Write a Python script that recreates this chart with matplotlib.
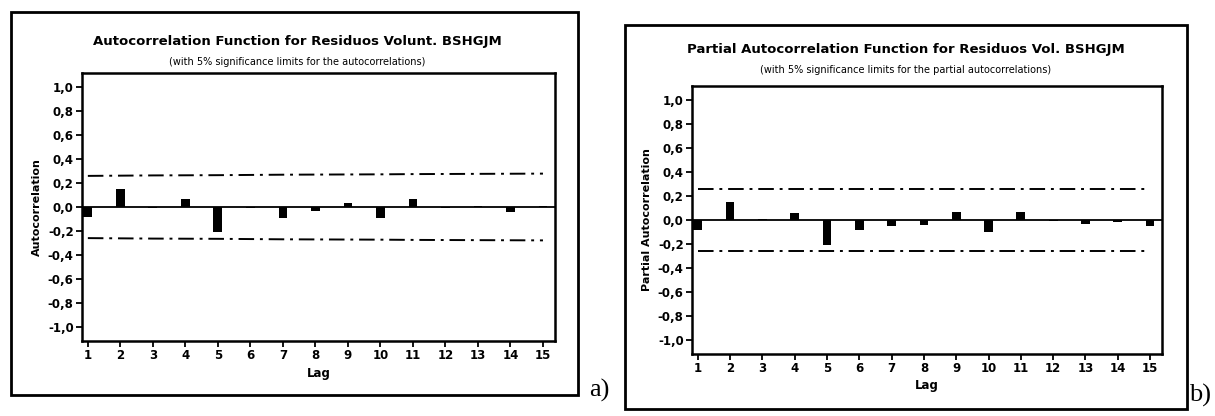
import numpy as np
import matplotlib
matplotlib.use("Agg")
import matplotlib.pyplot as plt
from matplotlib.patches import Rectangle

# lags and values
lags = np.arange(1, 16)
acf_vals = [-0.08, 0.15, -0.01, 0.07, -0.21, -0.01, -0.09, -0.03,
            0.03, -0.09, 0.07, -0.01, 0.01, -0.04, 0.01]
acf_lim = [0.26, 0.262, 0.264, 0.265, 0.266, 0.268, 0.27, 0.271,
           0.272, 0.273, 0.275, 0.276, 0.277, 0.278, 0.279]
pacf_vals = [-0.08, 0.15, 0.01, 0.06, -0.21, -0.08, -0.05, -0.04,
             0.07, -0.10, 0.07, -0.01, -0.03, -0.02, -0.05]
pacf_lim = [0.26] * 15

yticks = [1.0, 0.8, 0.6, 0.4, 0.2, 0.0, -0.2, -0.4, -0.6, -0.8, -1.0]
ytick_labels = ["1,0", "0,8", "0,6", "0,4", "0,2", "0,0",
                "-0,2", "-0,4", "-0,6", "-0,8", "-1,0"]

W, H = 1215, 416
fig = plt.figure(figsize=(W / 100, H / 100), dpi=100)
fig.patch.set_facecolor("white")


def fx(px):
    return px / W


def fy(py):
    return 1 - py / H


def panel(box, area, vals, lim, title, subtitle, ylabel, tpos, letter, lpos):
    # outer frame
    x0, y0, x1, y1 = box
    fig.patches.append(Rectangle((fx(x0), fy(y1)), fx(x1 - x0), (y1 - y0) / H,
                                 transform=fig.transFigure, fill=False,
                                 edgecolor="black", linewidth=2))
    a0, b0, a1, b1 = area
    ax = fig.add_axes([fx(a0), fy(b1), fx(a1 - a0), (b1 - b0) / H])
    ax.bar(lags, vals, width=0.27, color="black", zorder=3)
    ax.axhline(0, color="black", linewidth=1.3, zorder=2)
    ax.plot(lags, lim, color="black", linestyle=(0, (8, 3, 1.5, 3)), linewidth=1.4)
    ax.plot(lags, [-v for v in lim], color="black", linestyle=(0, (8, 3, 1.5, 3)), linewidth=1.4)
    ax.set_xlim(0.82, 15.37)
    ax.set_ylim(-1.12, 1.12)
    ax.set_xticks(lags)
    ax.set_xticklabels([str(l) for l in lags], fontweight="bold", fontsize=8.5)
    ax.set_yticks(yticks)
    ax.set_yticklabels(ytick_labels, fontweight="bold", fontsize=8.5)
    ax.tick_params(direction="out", length=4, width=1.3, pad=2)
    for s in ax.spines.values():
        s.set_linewidth(1.8)
    ax.set_xlabel("Lag", fontweight="bold", fontsize=8.5, labelpad=3)
    ax.set_ylabel(ylabel, fontweight="bold", fontsize=8, labelpad=4)
    tx, ty, sy = tpos
    fig.text(fx(tx), fy(ty), title, ha="center", va="center",
             fontweight="bold", fontsize=9.5)
    fig.text(fx(tx), fy(sy), subtitle, ha="center", va="center", fontsize=7)
    fig.text(fx(lpos[0]), fy(lpos[1]), letter, ha="left", va="center",
             family="Liberation Serif", fontsize=19)
    return ax


panel((11, 12, 578, 395), (82, 73, 555, 341), acf_vals, acf_lim,
      "Autocorrelation Function for Residuos Volunt. BSHGJM",
      "(with 5% significance limits for the autocorrelations)",
      "Autocorrelation", (297, 42, 62), "a)", (589, 390))

panel((625, 25, 1187, 409), (692, 86, 1162, 354), pacf_vals, pacf_lim,
      "Partial Autocorrelation Function for Residuos Vol. BSHGJM",
      "(with 5% significance limits for the partial autocorrelations)",
      "Partial Autocorrelation", (906, 50, 70), "b)", (1189, 395))

fig.savefig("out.png", dpi=100, facecolor="white")
